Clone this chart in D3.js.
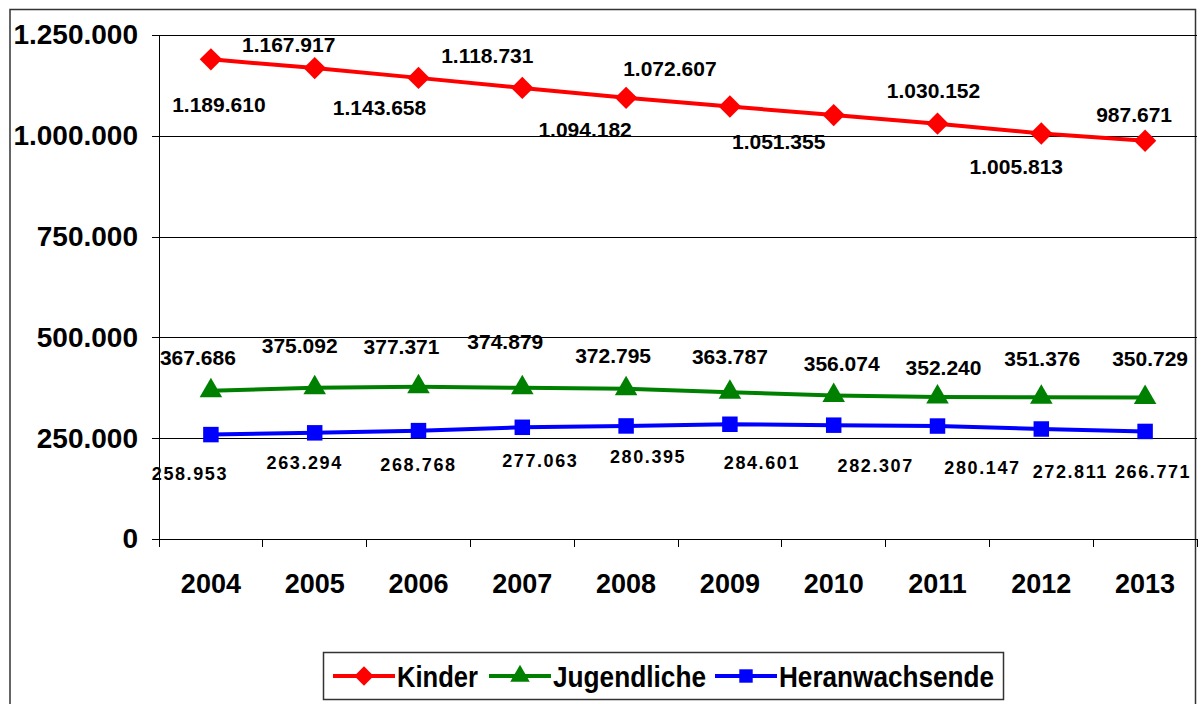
<!DOCTYPE html>
<html>
<head>
<meta charset="utf-8">
<script src="https://cdn.jsdelivr.net/npm/d3@7"></script>
<style>
  body { margin: 0; background: #fff; }
  text { font-family: "Liberation Sans", Arial, sans-serif; font-weight: bold; }
</style>
</head>
<body>
<div id="chart"></div>
<script>
var years = ["2004", "2005", "2006", "2007", "2008", "2009", "2010", "2011", "2012", "2013"];
var kinder = [1189610, 1167917, 1143658, 1118731, 1094182, 1072607, 1051355, 1030152, 1005813, 987671];
var jugendliche = [367686, 375092, 377371, 374879, 372795, 363787, 356074, 352240, 351376, 350729];
var heranwachsende = [258953, 263294, 268768, 277063, 280395, 284601, 282307, 280147, 272811, 266771];
var yTicks = [0, 250000, 500000, 750000, 1000000, 1250000];

// label offsets (dx, dy) from each point, as placed by hand in the original
var kinderOff = [[8, 45], [-26, -24], [-39, 30], [-35, -32], [-41, 32], [-60, -38], [-55, 26], [-4, -33], [-25, 33], [-11, -26]];
var jugendOff = [[-13, -33], [-15, -42], [-17, -40], [-17, -46], [-13, -33], [0, -36], [8, -32], [6, -30], [1, -39], [5, -39]];
var heranOff = [[-21, 39], [-10, 30], [0, 34], [18, 33], [22, 31], [32, 38], [42, 40], [45, 41], [29, 43], [8, 40]];

var width = 1202,
    height = 704;

var svg = d3.select("#chart")
    .append("svg")
    .attr("width", width)
    .attr("height", height);

var de = d3.formatLocale({ decimal: ",", thousands: ".", grouping: [3], currency: ["", "€"] });
var fmt = de.format(",d");

// outer frame
svg.append("rect")
    .attr("x", 10)
    .attr("y", 9.5)
    .attr("width", 1185.5)
    .attr("height", 720)
    .style("fill", "none")
    .style("stroke", "#333")
    .style("stroke-width", "1.5px");

var x = d3.scaleBand()
    .domain(years)
    .range([159, 1197])
    .padding(0);

var y = d3.scaleLinear()
    .domain([0, 1250000])
    .range([539, 35]);

function cx(i) { return x(years[i]) + x.bandwidth() / 2; }

// gridlines + y axis
var yAxis = d3.axisLeft(y)
    .tickValues(yTicks)
    .tickSize(-(1197 - 159))
    .tickFormat(fmt);

var gy = svg.append("g")
    .attr("transform", "translate(159,0)")
    .call(yAxis);

gy.select(".domain").remove();
gy.selectAll(".tick line")
    .attr("x1", -7)
    .style("stroke", "#000")
    .style("shape-rendering", "crispEdges");
gy.selectAll(".tick text")
    .attr("x", -21)
    .style("font-size", "28px")
    .style("font-family", "'Liberation Sans', Arial, sans-serif")
    .style("font-weight", "bold")
    .style("fill", "#000");

svg.append("line")
    .attr("x1", 159).attr("x2", 159)
    .attr("y1", 35).attr("y2", 547)
    .style("stroke", "#000")
    .style("shape-rendering", "crispEdges");

// x axis ticks at category boundaries
var bounds = years.map(function (d) { return x(d); }).concat([1197]);
svg.append("g").selectAll("line")
    .data(bounds)
    .join("line")
    .attr("x1", function (d) { return d; })
    .attr("x2", function (d) { return d; })
    .attr("y1", 539)
    .attr("y2", 547)
    .style("stroke", "#000")
    .style("shape-rendering", "crispEdges");

svg.append("g").selectAll("text")
    .data(years)
    .join("text")
    .attr("x", function (d) { return x(d) + x.bandwidth() / 2; })
    .attr("y", 593)
    .attr("text-anchor", "middle")
    .style("font-size", "27px")
    .text(function (d) { return d; });

var series = [
    { name: "Kinder", values: kinder, color: "#ff0000", sym: "diamond", off: kinderOff, fs: 21, ls: 0 },
    { name: "Jugendliche", values: jugendliche, color: "#008000", sym: "triangle", off: jugendOff, fs: 21, ls: 0 },
    { name: "Heranwachsende", values: heranwachsende, color: "#0000ff", sym: "square", off: heranOff, fs: 18, ls: 1.6 }
];

function symbolPath(sym, scale) {
    if (sym === "diamond") return d3.symbol().type(d3.symbolSquare).size(250 * scale)();
    if (sym === "triangle") return d3.symbol().type(d3.symbolTriangle).size(220 * scale)();
    return d3.symbol().type(d3.symbolSquare).size(240 * scale)();
}

var line = d3.line()
    .x(function (d, i) { return cx(i); })
    .y(function (d) { return y(d); });

series.forEach(function (s) {
    svg.append("path")
        .datum(s.values)
        .attr("d", line)
        .style("fill", "none")
        .style("stroke", s.color)
        .style("stroke-width", "4px");

    svg.append("g").selectAll("path")
        .data(s.values)
        .join("path")
        .attr("d", symbolPath(s.sym, 1))
        .attr("transform", function (d, i) {
            return "translate(" + cx(i) + "," + y(d) + ")" + (s.sym === "diamond" ? " rotate(45)" : "");
        })
        .style("fill", s.color);
});

series.forEach(function (s) {
    svg.append("g").selectAll("text")
        .data(s.values)
        .join("text")
        .attr("x", function (d, i) { return cx(i) + s.off[i][0]; })
        .attr("y", function (d, i) { return y(d) + s.off[i][1]; })
        .attr("dy", "0.36em")
        .attr("text-anchor", "middle")
        .style("font-size", s.fs + "px")
        .style("letter-spacing", s.ls + "px")
        .style("fill", "#000")
        .text(function (d) { return fmt(d); });
});

// legend
svg.append("rect")
    .attr("x", 323.5)
    .attr("y", 652.5)
    .attr("width", 680)
    .attr("height", 47)
    .style("fill", "#fff")
    .style("stroke", "#333")
    .style("stroke-width", "1.5px");

var legendX = [333, 489, 715];
var legendTextW = [81, 153, 215];
var lg = svg.append("g").selectAll("g")
    .data(series)
    .join("g")
    .attr("transform", function (d, i) { return "translate(" + legendX[i] + ",676)"; });

lg.append("line")
    .attr("x1", 0).attr("x2", 62)
    .style("stroke", function (d) { return d.color; })
    .style("stroke-width", "4px");

lg.append("path")
    .attr("d", function (d) { return symbolPath(d.sym, 0.75); })
    .attr("transform", function (d) { return "translate(31,0)" + (d.sym === "diamond" ? " rotate(45)" : ""); })
    .style("fill", function (d) { return d.color; });

lg.append("text")
    .attr("x", 64)
    .attr("dy", "0.36em")
    .attr("textLength", function (d, i) { return legendTextW[i]; })
    .attr("lengthAdjust", "spacingAndGlyphs")
    .style("font-size", "30px")
    .text(function (d) { return d.name; });
</script>
</body>
</html>
